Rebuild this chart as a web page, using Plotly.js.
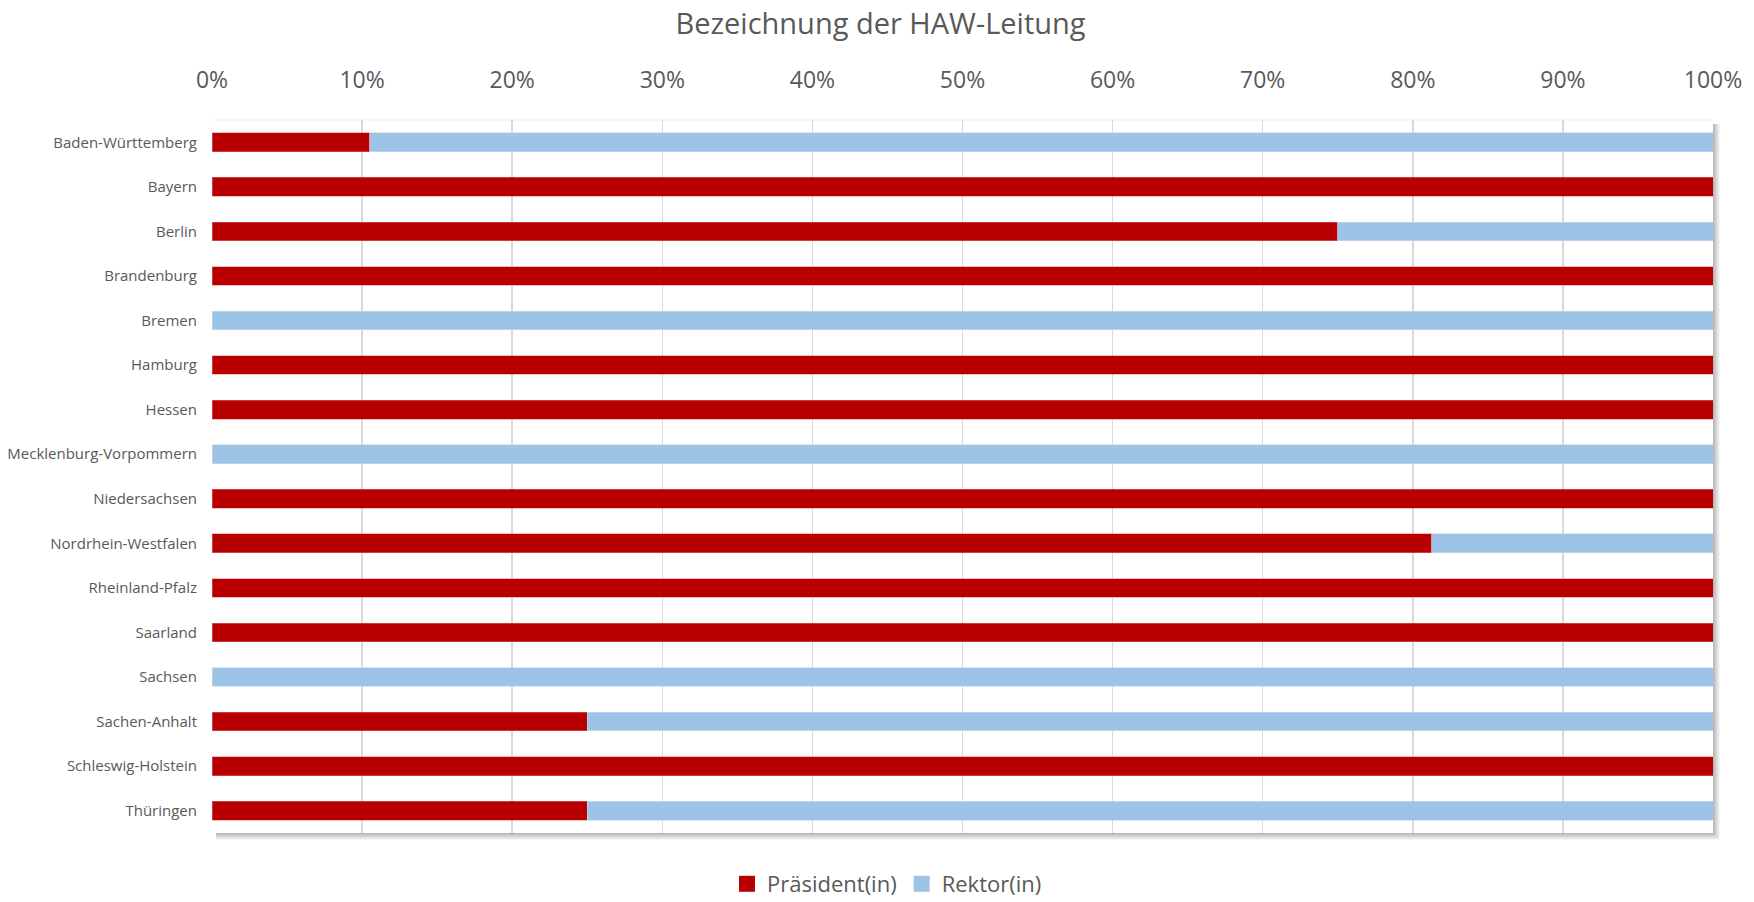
<!DOCTYPE html>
<html>
<head>
<meta charset="utf-8">
<script src="https://cdn.plot.ly/plotly-3.0.1.min.js"></script>
<style>html,body{margin:0;padding:0;background:#fff;}#chart{width:1754px;height:902px;}</style>
</head>
<body>
<div id="chart"></div>
<script>
const categories = ["Baden-Württemberg","Bayern","Berlin","Brandenburg","Bremen","Hamburg","Hessen","Mecklenburg-Vorpommern","Niedersachsen","Nordrhein-Westfalen","Rheinland-Pfalz","Saarland","Sachsen","Sachen-Anhalt","Schleswig-Holstein","Thüringen"];
const praesident = [10.5,100,75,100,0,100,100,0,100,81.25,100,100,0,25,100,25];
const rektor = [89.5,0,25,0,100,0,0,100,0,18.75,0,0,100,75,0,75];
const seriesNames = ["Präsident(in)","Rektor(in)"];
const seriesColors = ["#B80000","#9DC3E6"];
const tickVals = [0,10,20,30,40,50,60,70,80,90,100];
const tickText = ["0%","10%","20%","30%","40%","50%","60%","70%","80%","90%","100%"];

const FONT = "Open Sans, sans-serif";
const GREY = "#595959";

const traces = [
  {type:"bar", orientation:"h", name:seriesNames[0], y:categories, x:praesident, showlegend:false,
   marker:{color:seriesColors[0], line:{color:"rgba(230,120,120,0.6)", width:0.8}}, hoverinfo:"x+y"},
  {type:"bar", orientation:"h", name:seriesNames[1], y:categories, x:rektor, showlegend:false,
   marker:{color:seriesColors[1], line:{color:"rgba(200,220,240,0.8)", width:0.8}}, hoverinfo:"x+y"},
  // legend-only entries with larger square swatches
  {type:"scatter", mode:"markers", name:seriesNames[0], x:[null], y:[null],
   marker:{symbol:"square", size:16, color:seriesColors[0]}, hoverinfo:"skip"},
  {type:"scatter", mode:"markers", name:seriesNames[1], x:[null], y:[null],
   marker:{symbol:"square", size:16, color:seriesColors[1]}, hoverinfo:"skip"}
];

const PW = 1500, PH = 713;
// drop shadow on right & bottom edges of the plot area
const shapes = [];
for (let i = 0; i < 7; i++) {
  const op = 0.28 * (1 - i / 7);
  shapes.push({type:"line", xref:"x domain", yref:"y domain",
    x0: 1 + (i + 0.5) / PW, x1: 1 + (i + 0.5) / PW, y0: 1 - 4/PH, y1: -(i + 0.5) / PH,
    line:{color:"rgba(0,0,0," + op.toFixed(3) + ")", width:1}, layer:"below"});
  shapes.push({type:"line", xref:"x domain", yref:"y domain",
    x0: 4/PW, x1: 1 + (i + 0.5) / PW, y0: -(i + 0.5) / PH, y1: -(i + 0.5) / PH,
    line:{color:"rgba(0,0,0," + op.toFixed(3) + ")", width:1}, layer:"below"});
}
shapes.push({type:"line", xref:"x domain", yref:"y domain", x0:0, x1:1, y0:1, y1:1,
  line:{color:"#f0f0f0", width:1}, layer:"below"});

const layout = {
  width:1754, height:902,
  paper_bgcolor:"#ffffff", plot_bgcolor:"#ffffff",
  margin:{l:212, r:41, t:120, b:69, pad:0},
  barmode:"stack", bargap:0.58,
  font:{family:FONT, color:GREY},
  title:{text:"Bezeichnung der HAW-Leitung", xref:"container", x:0.502, xanchor:"center",
         yref:"container", y:1 - 24/902, yanchor:"middle", font:{size:29, color:GREY, family:FONT}},
  xaxis:{side:"top", range:[0,100], tickvals:tickVals, ticktext:tickText, showgrid:true,
         gridcolor:"#d9d9d9", gridwidth:1.5, zeroline:false, showline:false, ticks:"",
         ticklabelstandoff:26, tickfont:{size:23, color:GREY, family:FONT}, fixedrange:true},
  yaxis:{autorange:"reversed", showgrid:false, zeroline:false, showline:false, ticks:"",
         ticklabelstandoff:14, tickfont:{size:15, color:GREY, family:FONT}, fixedrange:true},
  legend:{orientation:"h", xref:"container", x:887/1754, xanchor:"center",
          yref:"container", y:1 - 884/902, yanchor:"middle",
          font:{size:22, color:GREY, family:FONT}, itemsizing:"trace", itemwidth:30,
          traceorder:"normal", tracegroupgap:0},
  shapes:shapes,
  showlegend:true
};

Plotly.newPlot("chart", traces, layout, {displayModeBar:false, staticPlot:true});
</script>
</body>
</html>
